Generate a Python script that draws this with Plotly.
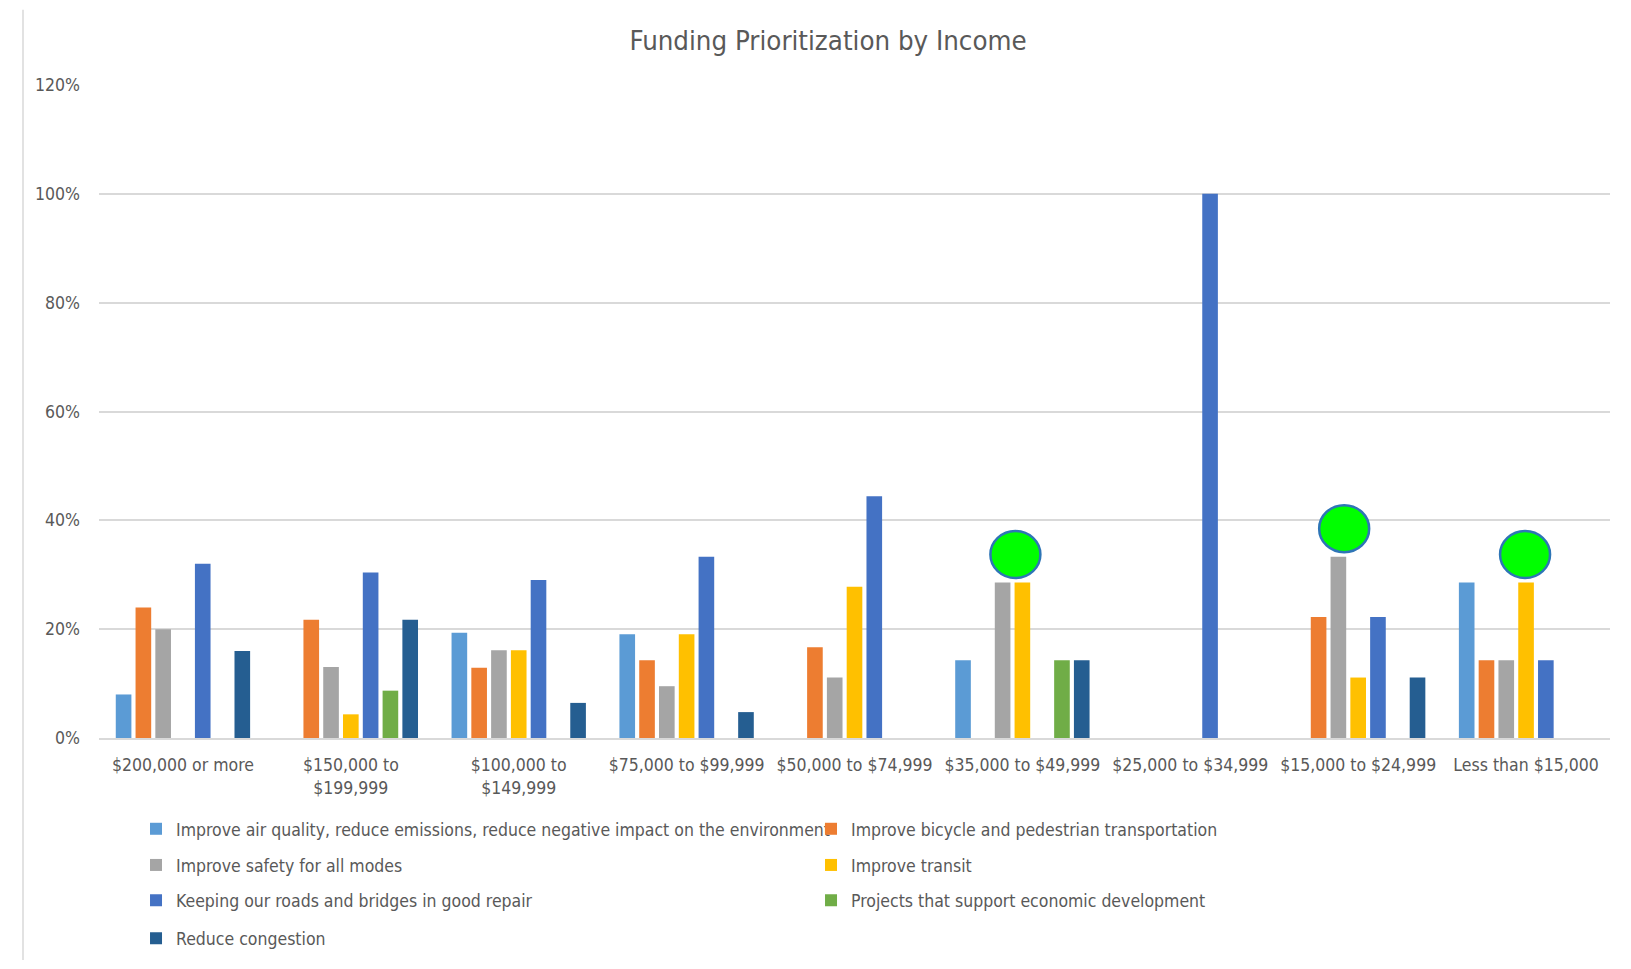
import plotly.graph_objects as go

categories = ["$200,000 or more", "$150,000 to $199,999", "$100,000 to $149,999",
              "$75,000 to $99,999", "$50,000 to $74,999", "$35,000 to $49,999",
              "$25,000 to $34,999", "$15,000 to $24,999", "Less than $15,000"]
tick_labels = ["$200,000 or more", "$150,000 to<br>$199,999", "$100,000 to<br>$149,999",
               "$75,000 to $99,999", "$50,000 to $74,999", "$35,000 to $49,999",
               "$25,000 to $34,999", "$15,000 to $24,999", "Less than $15,000"]

air_quality = [0.08, 0.0, 0.1935, 0.1905, 0.0, 0.1429, 0.0, 0.0, 0.2857]
bicycle_ped = [0.24, 0.2174, 0.129, 0.1429, 0.1667, 0.0, 0.0, 0.2222, 0.1429]
safety = [0.20, 0.1304, 0.1613, 0.0952, 0.1111, 0.2857, 0.0, 0.3333, 0.1429]
transit = [0.0, 0.0435, 0.1613, 0.1905, 0.2778, 0.2857, 0.0, 0.1111, 0.2857]
roads_bridges = [0.32, 0.3043, 0.2903, 0.3333, 0.4444, 0.0, 1.0, 0.2222, 0.1429]
economic_dev = [0.0, 0.087, 0.0, 0.0, 0.0, 0.1429, 0.0, 0.0, 0.0]
congestion = [0.16, 0.2174, 0.0645, 0.0476, 0.0, 0.1429, 0.0, 0.1111, 0.0]

series_names = [
    "Improve air quality, reduce emissions, reduce negative impact on the environment",
    "Improve bicycle and pedestrian transportation",
    "Improve safety for all modes",
    "Improve transit",
    "Keeping our roads and bridges in good repair",
    "Projects that support economic development",
    "Reduce congestion",
]
series_values = [air_quality, bicycle_ped, safety, transit, roads_bridges, economic_dev, congestion]
series_colors = ["#5B9BD5", "#ED7D31", "#A5A5A5", "#FFC000", "#4472C4", "#70AD47", "#255E91"]
legend_ids = ["legend", "legend", "legend2", "legend2", "legend3", "legend3", "legend4"]

highlight_groups = ["$35,000 to $49,999", "$15,000 to $24,999", "Less than $15,000"]
highlight_dx = [-7, -14, -1]

FONT = "DejaVu Sans Condensed, Liberation Sans Narrow, Roboto, sans-serif"
TXT = "#595959"

fig = go.Figure()
for name, vals, col, lg in zip(series_names, series_values, series_colors, legend_ids):
    fig.add_trace(go.Bar(x=categories, y=vals, name=name, marker=dict(color=col, line_width=0),
                         legend=lg))

# highlight circles above tallest bar of selected groups
for grp, dx in zip(highlight_groups, highlight_dx):
    i = categories.index(grp)
    top = max(v[i] for v in series_values)
    fig.add_shape(type="circle", xref="x", yref="y", xsizemode="pixel", ysizemode="pixel",
                  xanchor=grp, yanchor=top, x0=dx - 25, x1=dx + 25, y0=28 - 23.5, y1=28 + 23.5,
                  fillcolor="#00FF00", line=dict(color="#2E75B6", width=2.5), layer="above")

# chart-area left border
fig.add_shape(type="line", xref="paper", yref="paper", x0=-0.0503, x1=-0.0503,
              y0=-0.34, y1=1.1153, line=dict(color="#D9D9D9", width=1.5))

legend_common = dict(orientation="h", entrywidth=630, entrywidthmode="pixels",
                     font=dict(family=FONT, size=17.5, color=TXT), itemwidth=30,
                     bgcolor="rgba(0,0,0,0)", xanchor="left", yanchor="middle", x=0.0245)

fig.update_layout(
    width=1631, height=969,
    margin=dict(l=99, r=21, t=85, b=216),
    paper_bgcolor="white", plot_bgcolor="white",
    font=dict(family=FONT, size=17.5, color=TXT),
    title=dict(text="Funding Prioritization by Income", x=0.5077, xanchor="center",
               y=1 - 40.6 / 969, yanchor="middle",
               font=dict(family=FONT, size=27.4, color=TXT)),
    barmode="group", bargap=0.175, bargroupgap=0.21,
    legend=dict(**legend_common, y=-0.1392),
    legend2=dict(**legend_common, y=-0.1946),
    legend3=dict(**legend_common, y=-0.2485),
    legend4=dict(**legend_common, y=-0.3069),
    xaxis=dict(type="category", tickmode="array", tickvals=categories, ticktext=tick_labels,
               tickangle=0, automargin=False,
               showgrid=False, showline=True, linecolor="#D9D9D9", linewidth=1.5,
               ticks="", ticklabelstandoff=10, tickfont=dict(family=FONT, size=17.5, color=TXT)),
    yaxis=dict(range=[0, 1.2], dtick=0.2, tickformat=".0%", showgrid=True, automargin=False,
               gridcolor="#D9D9D9", gridwidth=1.5, zeroline=False, showline=False,
               ticks="", ticklabelstandoff=18, tickfont=dict(family=FONT, size=17.5, color=TXT)),
)

fig.write_html("out.html", config={"displayModeBar": False},
               post_script="document.body.style.margin='0';")
